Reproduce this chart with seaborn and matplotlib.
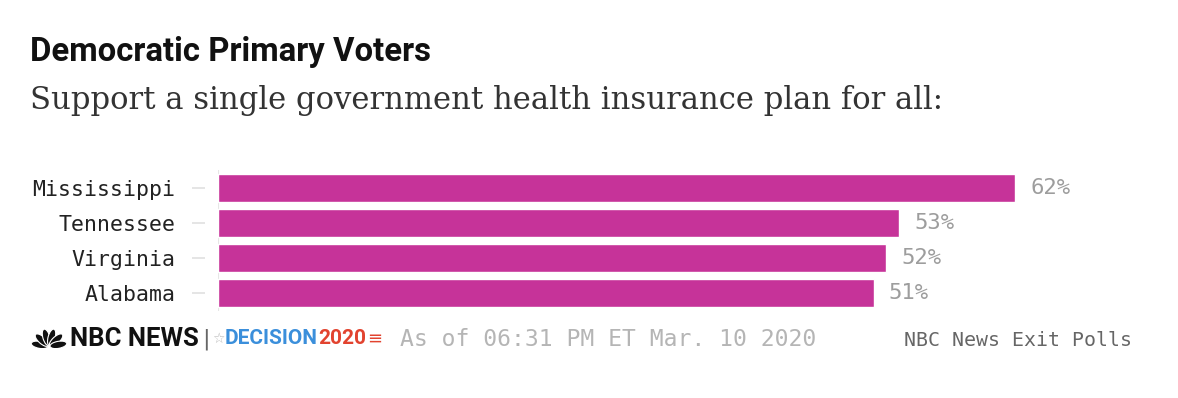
import matplotlib
matplotlib.use("Agg")
import matplotlib.pyplot as plt
import seaborn as sns
import pandas as pd
import numpy as np
from matplotlib.patches import Ellipse

states = ["Mississippi", "Tennessee", "Virginia", "Alabama"]
support = [62, 53, 52, 51]

title = "Democratic Primary Voters"
subtitle = "Support a single government health insurance plan for all:"
stamp = "As of 06:31 PM ET Mar. 10 2020"
source = "NBC News Exit Polls"

W, H = 1178, 398
BAR_COLOR = "#C63399"

sns.set_theme(style="white")
plt.rcParams["font.family"] = ["DejaVu Sans"]

df = pd.DataFrame({"state": states, "support": support})

fig = plt.figure(figsize=(W / 100, H / 100), dpi=100)
# bars start at x=218 px, 62% ends at x=1015 px
ax = fig.add_axes([218 / W, 1 - 310.5 / H, (1015 - 218) / W, 140 / H])

sns.barplot(data=df, x="support", y="state", color=BAR_COLOR, width=0.8,
            saturation=1, ax=ax)
ax.set_xlim(0, 62)
ax.set_xlabel("")
ax.set_ylabel("")
ax.set_xticks([])
for s in ax.spines.values():
    s.set_visible(False)
# tick dashes sit a little away from the bars (values in points)
ax.spines["left"].set_position(("outward", 9.4))
ax.axvline(0, color="#e6e6e6", lw=1.5, zorder=0)
ax.tick_params(axis="y", left=True, length=9.4, width=1.2, color="#e0e0e0", pad=12)
for lab in ax.get_yticklabels():
    lab.set_fontfamily("DejaVu Sans Mono")
    lab.set_fontsize(15.5)
    lab.set_color("#222222")

labels = [f"{v}%" for v in support]
ax.bar_label(ax.containers[0], labels=labels, padding=11, color="#9d9d9d",
             fontsize=16, fontfamily="DejaVu Sans Mono")


def px(x, y):
    return x / W, 1 - y / H


fig.text(*px(30, 52), title, fontsize=23.7, fontweight="bold", family="Roboto",
         color="#111111", va="center", ha="left")
fig.text(*px(30, 100), subtitle, fontsize=22.1, family="DejaVu Serif",
         color="#333333", va="center", ha="left")

# footer: simple peacock mark
lax = fig.add_axes([31 / W, 1 - 348 / H, 36 / W, 21 / H])
lax.set_xlim(-18, 18)
lax.set_ylim(0, 21)
lax.set_aspect("equal")
lax.axis("off")
for ang in np.linspace(170, 10, 6):
    t = np.deg2rad(ang)
    lax.add_patch(Ellipse((9.5 * np.cos(t), 1.5 + 9.5 * np.sin(t)), width=17,
                          height=7, angle=ang, facecolor="#111111",
                          edgecolor="white", lw=0.8))

fig.canvas.draw()
r = fig.canvas.get_renderer()


def word(x, text, **kw):
    t = fig.text(*px(x, 339), text, va="center", ha="left", **kw)
    bb = t.get_window_extent(renderer=r)
    return bb.x1


word(70, "NBC NEWS", fontsize=18.5, fontweight="bold", family="Roboto",
     color="#111111")
word(202, "|", fontsize=16, color="#666666")
word(212, "☆", fontsize=10, color="#bbbbbb")
x_end = word(225, "DECISION", fontsize=15, fontweight="bold", family="Roboto",
             color="#3B8FDB")
x_end = word(x_end, "2020", fontsize=15, fontweight="bold", family="Roboto",
             color="#E2432F")
word(x_end + 1, "≡", fontsize=13, color="#E2432F")

fig.text(*px(400, 340), stamp, fontsize=16.6, family="DejaVu Sans Mono",
         color="#b5b5b5", va="center", ha="left")
fig.text(*px(1132, 340), source, fontsize=14.3, family="DejaVu Sans Mono",
         color="#666666", va="center", ha="right")

fig.savefig("out.png", dpi=100, facecolor="white")
